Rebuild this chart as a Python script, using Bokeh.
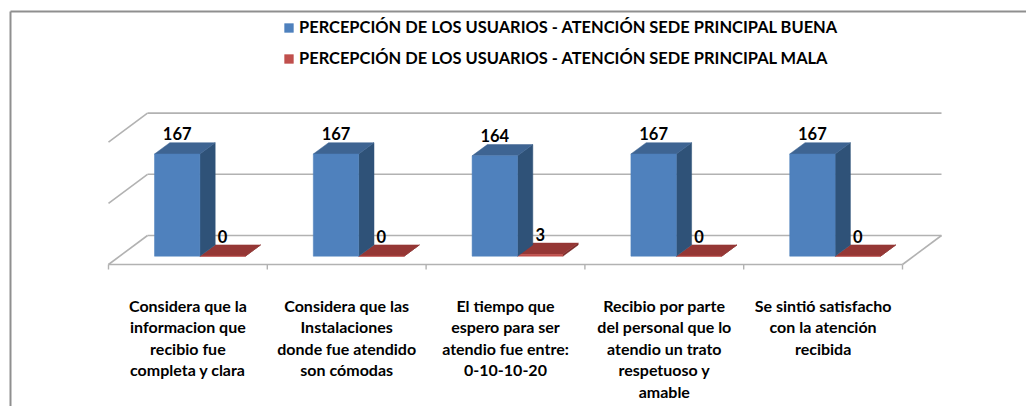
from bokeh.plotting import figure
from bokeh.embed import file_html
from bokeh.resources import INLINE
from bokeh.models import Legend, LegendItem, ColumnDataSource
from bokeh.core.properties import value

# ---- data
categories = [
    "Considera que la\ninformacion que\nrecibio fue\ncompleta y clara",
    "Considera que las\nInstalaciones\ndonde fue atendido\nson cómodas",
    "El tiempo que\nespero para ser\natendio fue entre:\n0-10-10-20",
    "Recibio por parte\ndel personal que lo\natendio un trato\nrespetuoso y\namable",
    "Se sintió satisfacho\ncon la atención\nrecibida",
]
buena = [167, 167, 164, 167, 167]
mala = [0, 0, 3, 0, 0]
series_names = [
    "PERCEPCIÓN DE LOS USUARIOS - ATENCIÓN SEDE PRINCIPAL BUENA",
    "PERCEPCIÓN DE LOS USUARIOS - ATENCIÓN SEDE PRINCIPAL MALA",
]
gridlines = [0, 100, 200]

# ---- layout (pixels of the picture)
W, H = 1026, 406
ORG = 0                            # page offset of the figure
PX_CAT, PX_VAL = 158.8, 0.612      # pixels per category / per value unit
X0, Y0 = 108.0, 255.7              # page position of category 0 and value 0
FONT = "Lato"


def ux(px):
    return (px - X0) / PX_CAT


def uy(py):
    return (Y0 - py) / PX_VAL


BAR_W = 45.4 / PX_CAT
BAR_OFF = 46.0 / PX_CAT
BAR_DX, BAR_DY = 15.3 / PX_CAT, 11.3 / PX_VAL
WALL_DX, WALL_DY = 39.0 / PX_CAT, 29.0 / PX_VAL
FRONT_SHIFT = uy(235.0)  # back wall gridlines are raised by this much

p = figure(width=W, height=H, output_backend="svg", toolbar_location=None,
           x_range=(ux(ORG), ux(ORG + W)), y_range=(uy(ORG + H), uy(ORG)),
           min_border=0, outline_line_color=None)
p.axis.visible = False
p.grid.visible = False
p.background_fill_color = "white"
p.border_fill_color = "white"

# ---- chart frame
frame = "#8f8f8f"
p.line([ux(10), ux(10)], [uy(ORG + H), uy(11)], line_color=frame, line_width=2)
p.line([ux(10), ux(ORG + W)], [uy(11), uy(11)], line_color=frame, line_width=2)

# ---- walls, gridlines, floor
grid = "#b2b2b2"
n = len(categories)
for g in gridlines:
    back = FRONT_SHIFT + g
    p.line([0 + WALL_DX, n + WALL_DX], [back, back], line_color=grid, line_width=1.6)
    p.line([0, WALL_DX], [back - WALL_DY, back], line_color=grid, line_width=1.6)
p.line([0, n], [FRONT_SHIFT - WALL_DY] * 2, line_color=grid, line_width=1.6)
p.line([n, n + WALL_DX], [FRONT_SHIFT - WALL_DY, FRONT_SHIFT], line_color=grid, line_width=1.6)
tick_bottom = FRONT_SHIFT - WALL_DY - 5 / PX_VAL
for i in range(n + 1):
    p.line([i, i], [FRONT_SHIFT - WALL_DY, tick_bottom], line_color=grid, line_width=1.4)


# ---- 3D bars
def bars(values, off, front, side, top):
    lefts = [i + off for i in range(n)]
    rights = [l + BAR_W for l in lefts]
    p.patches(
        [[r, r + BAR_DX, r + BAR_DX, r] for r in rights],
        [[0, BAR_DY, v + BAR_DY, v] for v in values],
        fill_color=side, line_color=side, line_width=0.5)
    p.patches(
        [[l, r, r + BAR_DX, l + BAR_DX] for l, r in zip(lefts, rights)],
        [[v, v, v + BAR_DY, v + BAR_DY] for v in values],
        fill_color=top, line_color=top, line_width=0.5)
    return p.quad(left=lefts, right=rights, bottom=[0] * n, top=values,
                  fill_color=front, line_color=front, line_width=0.5)


r_mala = bars(mala, BAR_OFF + BAR_W, "#c0504d", "#7a2c2a", "#953735")
r_buena = bars(buena, BAR_OFF, "#4f81bd", "#2f5278", "#3e6492")

# ---- value labels
lab_dy = 20.0 / PX_VAL
for vals, off in ((buena, BAR_OFF), (mala, BAR_OFF + BAR_W)):
    src = ColumnDataSource(dict(
        x=[i + off + BAR_W / 2 for i in range(n)],
        y=[v + lab_dy for v in vals],
        t=[str(v) for v in vals]))
    p.text("x", "y", text="t", source=src, text_font=value(FONT), text_font_style="bold",
           text_font_size="16.5px", text_align="center", text_baseline="middle", text_color="black")

# ---- category labels
src = ColumnDataSource(dict(x=[i + 0.5 for i in range(n)], y=[uy(295.5)] * n, t=categories))
p.text("x", "y", text="t", source=src, text_font=value(FONT), text_font_style="bold",
       text_font_size="16px", text_align="center", text_baseline="top", text_color="black",
       text_line_height=1.13)

# ---- legend
legend = Legend(items=[LegendItem(label=value(series_names[0]), renderers=[r_buena]),
                       LegendItem(label=value(series_names[1]), renderers=[r_mala])],
                location=(283, H - 68), orientation="vertical",
                glyph_width=11, glyph_height=11, label_standoff=5, spacing=11,
                padding=0, margin=0, label_height=11,
                background_fill_alpha=0, border_line_color=None,
                label_text_font=FONT, label_text_font_style="bold",
                label_text_font_size="16.45px", label_text_color="black")
p.add_layout(legend, "center")

open("out.html", "w").write(file_html(p, INLINE))
